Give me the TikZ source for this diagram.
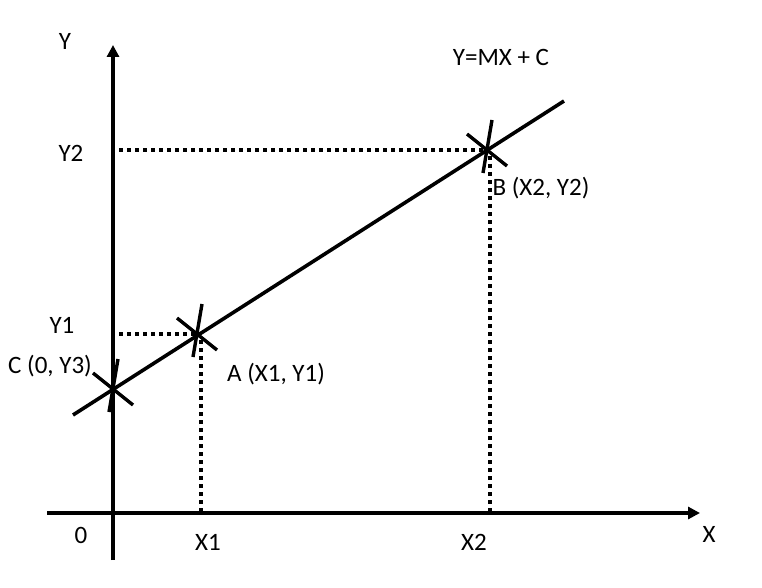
\documentclass[tikz,border=0pt]{standalone}
\usepackage{fontspec}
\setmainfont{Carlito}
\usetikzlibrary{arrows.meta}
\begin{document}
\begin{tikzpicture}[x=1pt,y=-1pt,
  axis/.style={line width=4pt,-{Triangle[length=12pt,width=12pt]}},
  graphline/.style={line width=3.6pt},
  crossline/.style={line width=3.4pt},
  guide/.style={line width=3.5pt,dash pattern=on 4pt off 4pt},
  lbl/.style={anchor=base,inner sep=0pt,font=\fontsize{25}{29}\selectfont}]
\useasboundingbox (0,0) rectangle (762,588);
% points
\coordinate (C) at (113,389);
\coordinate (A) at (197,334);
\coordinate (B) at (487,150);
\coordinate (ls) at (73,415);
\coordinate (le) at (564,101);
\coordinate (yb) at (113,560);
\coordinate (yt) at (113,45);
\coordinate (xl) at (47,513);
\coordinate (xr) at (700,513);
\coordinate (yA) at (119,334);
\coordinate (yB) at (119,150);
\coordinate (xA) at (201,511);
\coordinate (xB) at (490,511);
\coordinate (Ad) at (201,340);
\coordinate (Bd) at (490,156);
% axes
\draw[axis] (yb) -- (yt);
\draw[axis] (xl) -- (xr);
% guides
\draw[guide] (yA) -- (A);
\draw[guide] (yB) -- (B);
\draw[guide] (Ad) -- (xA);
\draw[guide] (Bd) -- (xB);
% main line
\draw[graphline] (ls) -- (le);
% crosses
\foreach \p in {A,B,C}{
  \draw[crossline] ([shift={(-4,23)}]\p) -- ([shift={(5,-30)}]\p);
  \draw[crossline] ([shift={(-20,-16)}]\p) -- ([shift={(20,16)}]\p);
}
% labels
\node[lbl] (ly) at (65,50) {Y};
\node[lbl] (leq) at (501,66) {Y=MX + C};
\node[lbl] (lb) at (541,195) {B (X2, Y2)};
\node[lbl] (ly2) at (71,162) {Y2};
\node[lbl] (ly1) at (62,333) {Y1};
\node[lbl] (lc) at (50,373) {C (0, Y3)};
\node[lbl] (la) at (276,381) {A (X1, Y1)};
\node[lbl] (l0) at (81,543) {0};
\node[lbl] (lx1) at (208,550) {X1};
\node[lbl] (lx2) at (474,550) {X2};
\node[lbl] (lx) at (709,542) {X};
\end{tikzpicture}
\end{document}
